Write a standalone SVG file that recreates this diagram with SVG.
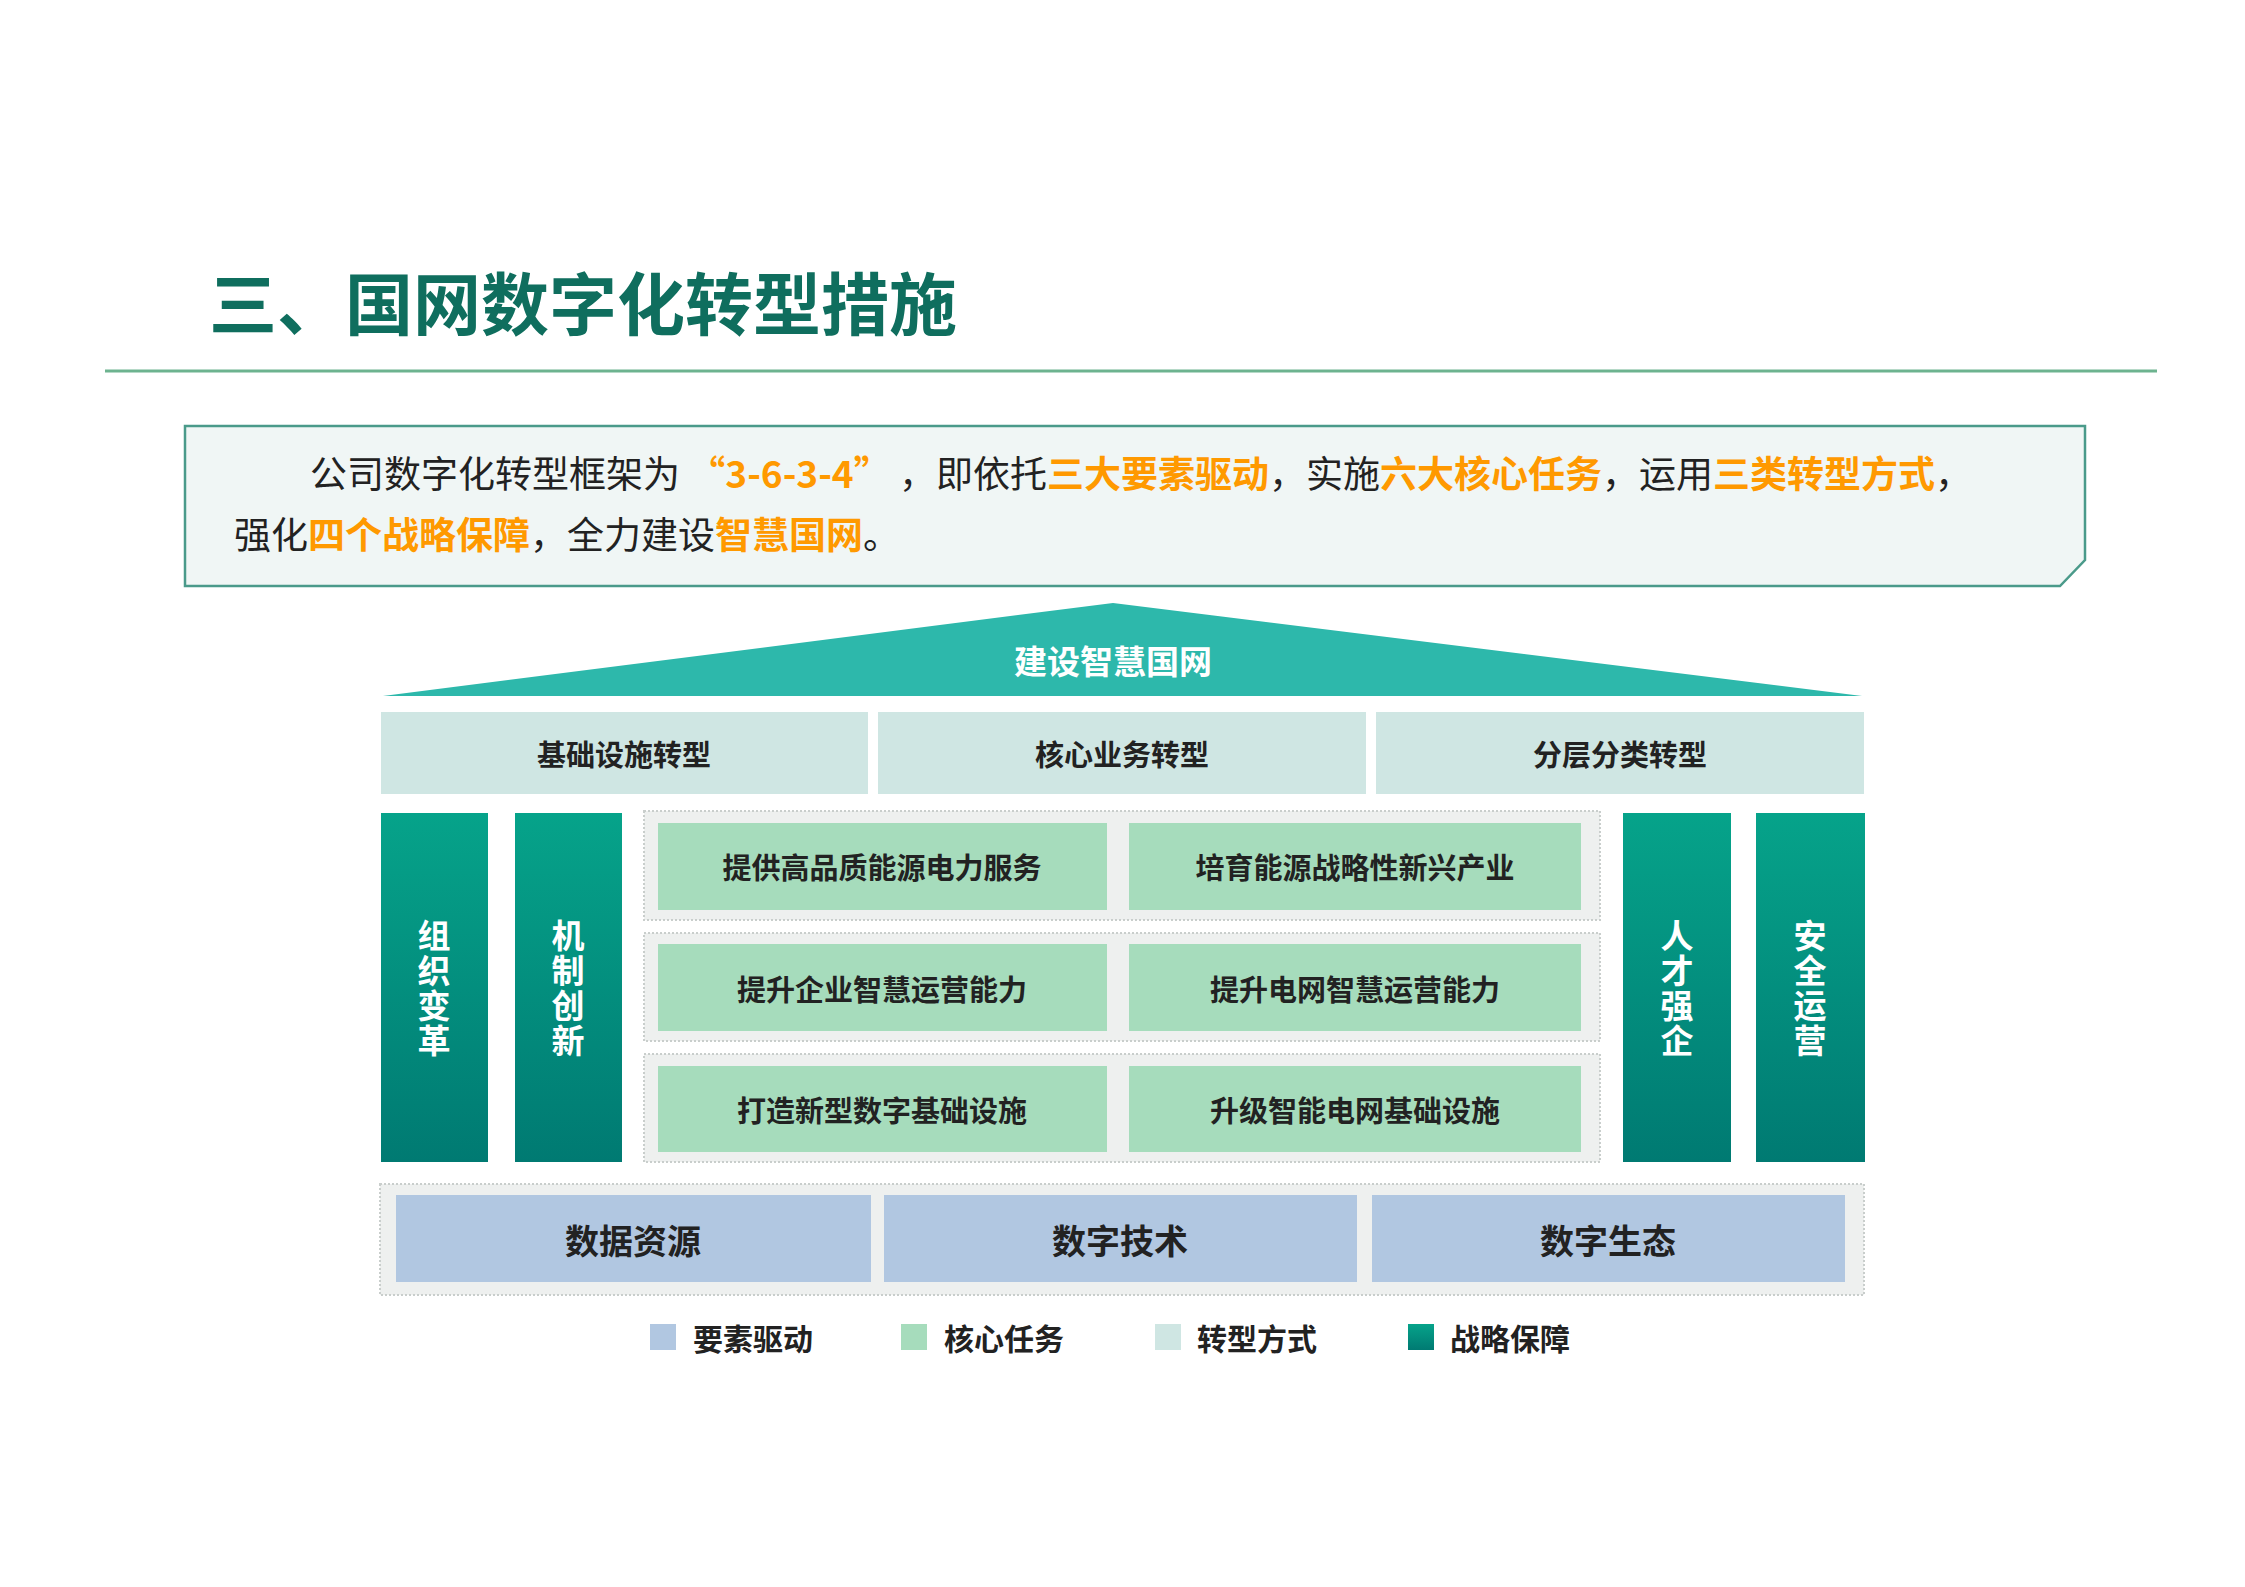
<svg xmlns="http://www.w3.org/2000/svg" width="2245" height="1587" viewBox="0 0 2245 1587">
<style>
text{font-family:"Noto Sans CJK SC","Liberation Sans",sans-serif}
.b{font-weight:bold}
.tc{fill:#cfe6e3}
.gc{fill:#a6dcbc}
.bc{fill:#b1c7e1}
.dg{fill:#eef0ef;stroke:#c9cecc;stroke-width:2;stroke-dasharray:2 2}
.t{font-size:29px;font-weight:bold;fill:#222;text-anchor:middle;dominant-baseline:central}
.bt{font-size:34px;font-weight:bold;fill:#222;text-anchor:middle;dominant-baseline:central}
.vt{font-size:33px;font-weight:bold;fill:#fff;text-anchor:middle;dominant-baseline:central}
.o{fill:#ff9900;font-weight:bold}
</style>
<defs>
<linearGradient id="pg" x1="0" y1="0" x2="0" y2="1"><stop offset="0" stop-color="#06a38a"/><stop offset="1" stop-color="#007a72"/></linearGradient>
</defs>
<rect width="2245" height="1587" fill="#fff"/>
<g id="title"><text x="209" y="330" font-size="68" font-weight="bold" fill="#0f6e5e">三、国网数字化转型措施</text>
<line x1="105" y1="371" x2="2157" y2="371" stroke="#6db38f" stroke-width="3"/></g>
<g id="intro">
<path d="M185 426 H2085 V560 L2060 586 H185 Z" fill="#f0f6f5" stroke="#4a9a8a" stroke-width="2.5"/>
<text x="310" y="488" font-size="37" fill="#222">公司数字化转型框架为 <tspan class="o">“3-6-3-4”</tspan> ，即依托<tspan class="o">三大要素驱动</tspan>，实施<tspan class="o">六大核心任务</tspan>，运用<tspan class="o">三类转型方式</tspan>，</text>
<text x="234" y="549" font-size="37" fill="#222">强化<tspan class="o">四个战略保障</tspan>，全力建设<tspan class="o">智慧国网</tspan>。</text>
</g>
<g id="roof"><polygon points="1113,603 383,696 1862,696" fill="#2db8ab"/>
<text x="1113" y="660" class="vt" font-size="34">建设智慧国网</text></g>
<g id="modes">
<rect class="tc" x="381" y="712" width="487" height="82"/><text class="t" x="624" y="753">基础设施转型</text>
<rect class="tc" x="878" y="712" width="488" height="82"/><text class="t" x="1122" y="753">核心业务转型</text>
<rect class="tc" x="1376" y="712" width="488" height="82"/><text class="t" x="1620" y="753">分层分类转型</text>
</g>
<g id="pillars">
<rect fill="url(#pg)" x="381" y="813" width="107" height="349"/>
<text class="vt" x="434" y="989" writing-mode="tb" glyph-orientation-vertical="0" letter-spacing="2">组织变革</text>
<rect fill="url(#pg)" x="515" y="813" width="107" height="349"/>
<text class="vt" x="568" y="989" writing-mode="tb" glyph-orientation-vertical="0" letter-spacing="2">机制创新</text>
<rect fill="url(#pg)" x="1623" y="813" width="108" height="349"/>
<text class="vt" x="1677" y="989" writing-mode="tb" glyph-orientation-vertical="0" letter-spacing="2">人才强企</text>
<rect fill="url(#pg)" x="1756" y="813" width="109" height="349"/>
<text class="vt" x="1810" y="989" writing-mode="tb" glyph-orientation-vertical="0" letter-spacing="2">安全运营</text>
</g>
<g id="tasks">
<rect class="dg" x="644" y="811" width="956" height="109"/>
<rect class="dg" x="644" y="933" width="956" height="108"/>
<rect class="dg" x="644" y="1054" width="956" height="108"/>
<rect class="gc" x="658" y="823" width="449" height="87"/><text class="t" x="882" y="866">提供高品质能源电力服务</text>
<rect class="gc" x="1129" y="823" width="452" height="87"/><text class="t" x="1355" y="866">培育能源战略性新兴产业</text>
<rect class="gc" x="658" y="944" width="449" height="87"/><text class="t" x="882" y="988">提升企业智慧运营能力</text>
<rect class="gc" x="1129" y="944" width="452" height="87"/><text class="t" x="1355" y="988">提升电网智慧运营能力</text>
<rect class="gc" x="658" y="1066" width="449" height="86"/><text class="t" x="882" y="1109">打造新型数字基础设施</text>
<rect class="gc" x="1129" y="1066" width="452" height="86"/><text class="t" x="1355" y="1109">升级智能电网基础设施</text>
</g>
<g id="drivers">
<rect class="dg" x="380" y="1184" width="1484" height="111"/>
<rect class="bc" x="396" y="1195" width="475" height="87"/><text class="bt" x="633" y="1239">数据资源</text>
<rect class="bc" x="884" y="1195" width="473" height="87"/><text class="bt" x="1120" y="1239">数字技术</text>
<rect class="bc" x="1372" y="1195" width="473" height="87"/><text class="bt" x="1608" y="1239">数字生态</text>
</g>
<g id="legend" font-size="30">
<rect x="650" y="1324" width="26" height="26" fill="#b1c7e1"/><text x="693" y="1337" class="b" fill="#222" dominant-baseline="central">要素驱动</text>
<rect x="901" y="1324" width="26" height="26" fill="#a6dcbc"/><text x="944" y="1337" class="b" fill="#222" dominant-baseline="central">核心任务</text>
<rect x="1155" y="1324" width="26" height="26" fill="#cfe6e3"/><text x="1197" y="1337" class="b" fill="#222" dominant-baseline="central">转型方式</text>
<rect x="1408" y="1324" width="26" height="26" fill="url(#pg)"/><text x="1450" y="1337" class="b" fill="#222" dominant-baseline="central">战略保障</text>
</g>
<g id="connectors"/>
</svg>
